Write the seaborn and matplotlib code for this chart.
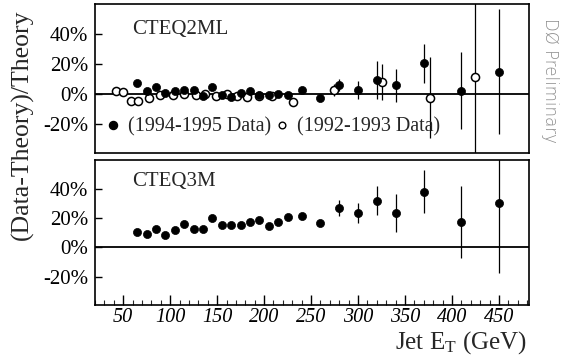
import numpy as np
import pandas as pd
import matplotlib
matplotlib.use("Agg")
import matplotlib.pyplot as plt
from matplotlib.lines import Line2D
from matplotlib.ticker import FuncFormatter, MultipleLocator
import seaborn as sns

# Jet E_T bin centres (GeV) for the 1994-1995 sample
et_9495 = [65, 75, 85, 95, 105, 115, 125, 135, 145, 155, 165, 175, 185, 195,
           205, 215, 225, 240, 260, 280, 300, 320, 340, 370, 410, 450]

# (Data-Theory)/Theory in %, CTEQ2ML comparison
cteq2ml_9495 = [7.6, 2.2, 4.9, 0.4, 2.2, 2.9, 2.9, -1.5, 4.9, -0.7, -1.8, 0.4, 2.0,
                -0.7, -0.7, 0.0, -0.4, 3.0, -2.4, 6.0, 2.7, 9.3, 5.8, 20.4, 2.2, 14.9]
cteq2ml_9495_err = [1, 1, 1, 1, 1, 1, 1, 1, 1, 1, 1, 1, 1, 1, 1, 1, 1,
                    1.5, 2, 4, 5.8, 12.8, 10.8, 12.8, 25.8, 41.7]

# 1992-1993 sample, CTEQ2ML comparison
et_9293 = [42, 50, 58, 66, 77, 89, 103, 115, 127, 137, 149, 160, 171, 182, 195,
           208, 231, 274, 325, 377, 424]
cteq2ml_9293 = [2.2, 1.5, -4.5, -4.5, -2.9, -0.7, -0.7, 0.3, -0.7, 0.0, -1.2, 0.0,
                -1.5, -2.2, -1.0, -1.0, -5.0, 2.7, 8.2, -2.4, 11.1]
cteq2ml_9293_err = [1, 1, 1, 1, 1, 1, 1, 1, 1, 1, 1, 1, 1.5, 1.5, 1.5, 2, 2.5,
                    4, 12, 27, 80]

# (Data-Theory)/Theory in %, CTEQ3M comparison
cteq3m_9495 = [10.6, 9.1, 12.5, 8.4, 11.8, 15.7, 12.3, 12.3, 20.2, 15.2, 15.2, 15.2,
               17.0, 18.6, 14.5, 17.0, 20.5, 21.4, 16.4, 27.0, 23.2, 31.8, 23.2,
               38.0, 17.3, 30.0]
cteq3m_9495_err = [1, 1, 1, 1, 1, 1, 1, 1, 1, 1, 1, 1, 1, 1, 1, 1, 1,
                   2, 2, 5.4, 6.8, 10, 13, 14.5, 24.7, 47.7]

y_ticks = [-20, 0, 20, 40]
x_ticks = [50, 100, 150, 200, 250, 300, 350, 400, 450]
panel_names = ["CTEQ2ML", "CTEQ3M"]
legend_labels = ["(1994-1995 Data)", "(1992-1993 Data)"]

sns.set_theme(style="white")
serif = ["Liberation Serif", "DejaVu Serif"]
plt.rcParams["font.family"] = serif
plt.rcParams["mathtext.fontset"] = "custom"
plt.rcParams["mathtext.rm"] = "Liberation Serif"

fig = plt.figure(figsize=(5.63, 3.6), dpi=100)
W, H = 563, 360
left, right = 95, 529
ax_top = fig.add_axes([left / W, 1 - 153 / H, (right - left) / W, 149 / H])
ax_bot = fig.add_axes([left / W, 1 - 305 / H, (right - left) / W, 145 / H])

ms = 34
lw_err = 0.9

def style_axis(ax, ylim):
    ax.set_xlim(20, 482)
    ax.set_ylim(*ylim)
    for s in ax.spines.values():
        s.set_color("black")
        s.set_linewidth(1.2)
    ax.axhline(0, color="black", lw=1.3, zorder=1)
    ax.set_yticks(y_ticks)
    ax.yaxis.set_major_formatter(FuncFormatter(lambda v, p: f"{int(round(v))}%"))
    ax.tick_params(axis="y", direction="in", length=5, width=1, pad=5,
                   labelsize=15, colors="black", left=True)
    ax.set_xlabel("")
    ax.set_ylabel("")

# ---- upper panel: CTEQ2ML ----
ax = ax_top
style_axis(ax, (-39.3, 60))
ax.errorbar(et_9293, cteq2ml_9293, yerr=cteq2ml_9293_err, fmt="none",
            ecolor="black", elinewidth=lw_err, capsize=0, zorder=2)
ax.errorbar(et_9495, cteq2ml_9495, yerr=cteq2ml_9495_err, fmt="none",
            ecolor="black", elinewidth=lw_err, capsize=0, zorder=2)
sns.scatterplot(x=et_9293, y=cteq2ml_9293, ax=ax, marker="o", s=ms,
                color="white", edgecolor="black", linewidth=1.1, zorder=3)
sns.scatterplot(x=et_9495, y=cteq2ml_9495, ax=ax, marker="o", s=ms,
                color="black", edgecolor="black", linewidth=0.5, zorder=4)
ax.set_xticks([])
ax.text(60, 42.7, panel_names[0], fontsize=15, ha="left", va="center")
handles = [
    Line2D([], [], ls="none", marker="o", markersize=5.8, markerfacecolor="black",
           markeredgecolor="black"),
    Line2D([], [], ls="none", marker="o", markersize=4.8, markerfacecolor="white",
           markeredgecolor="black", markeredgewidth=1.0),
]
ax.legend(handles, legend_labels, ncol=2, loc="center left",
          bbox_to_anchor=(0.018, 0.174), frameon=False, fontsize=14.5,
          borderpad=0, borderaxespad=0, handlelength=1.0, handletextpad=0.25,
          columnspacing=0.05)

# ---- lower panel: CTEQ3M ----
ax = ax_bot
style_axis(ax, (-39.4, 59.6))
ax.errorbar(et_9495, cteq3m_9495, yerr=cteq3m_9495_err, fmt="none",
            ecolor="black", elinewidth=lw_err, capsize=0, zorder=2)
sns.scatterplot(x=et_9495, y=cteq3m_9495, ax=ax, marker="o", s=ms,
                color="black", edgecolor="black", linewidth=0.5, zorder=4)
ax.set_xticks(x_ticks)
ax.set_xticklabels([str(t) for t in x_ticks], fontstyle="italic")
ax.xaxis.set_minor_locator(MultipleLocator(10))
ax.tick_params(axis="x", which="major", direction="in", length=7, width=1,
               pad=2, labelsize=14.5, colors="black", bottom=True)
ax.tick_params(axis="x", which="minor", direction="in", length=3.5, width=0.8,
               bottom=True)
ax.text(60, 44.6, panel_names[1], fontsize=15, ha="left", va="center")

# shared labels
fig.text(22 / W, 1 - 125 / H, "(Data-Theory)/Theory", rotation=90,
         ha="center", va="center", fontsize=18.5)
fig.text(461 / W, 1 - 343 / H, r"Jet $\mathregular{E_T}$ (GeV)",
         ha="center", va="center", fontsize=18)
fig.text(550 / W, 1 - 80 / H, "DØ Preliminary", rotation=270,
         ha="center", va="center", fontsize=12, color="#8c8c8c",
         family=["DejaVu Sans"], fontweight="light")

fig.savefig("out.png", dpi=100)
